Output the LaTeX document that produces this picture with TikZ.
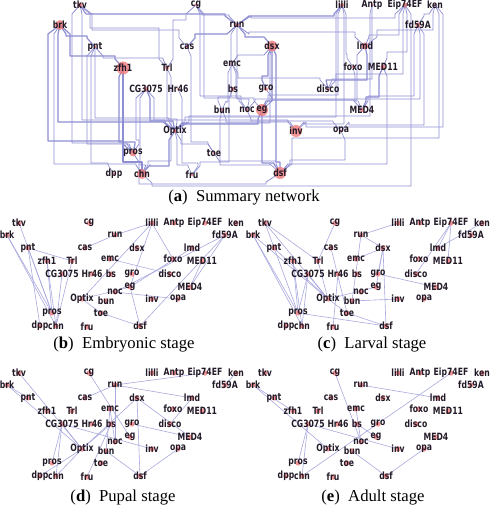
\documentclass[tikz,border=0pt]{standalone}
\usepackage{fontspec}
\setmainfont{Liberation Serif}
\newfontfamily\genefont{DejaVu Sans}[FakeStretch=0.77]
\usetikzlibrary{calc, backgrounds}

\definecolor{netblue}{RGB}{142, 142, 210}
\definecolor{stageblue}{RGB}{168, 168, 222}
\definecolor{hubred}{RGB}{240, 122, 122}
\definecolor{genetext}{RGB}{35, 26, 40}

%% layout of the four stage panels (pixel units, panel b)
\newcommand{\stagenodes}{tkv/19/223, cg/89/223, lilli/152/223, Antp/174/223,
  Eip74EF/205/223, ken/236/223, brk/7/235, run/115/235, fd59A/225/235,
  pnt/28/248, cas/85/248, dsx/137/248, lmd/192/248, zfh1/47/261, Trl/72/261,
  emc/110/259, foxo/173/259, MED11/202/261, CG3075/62/274, Hr46/92/274,
  bs/111/274, gro/132/274, disco/170/274, eg/130/287, MED4/190/287,
  noc/115/292, Optix/82/299, bun/106/301, inv/152/299, opa/178/299,
  pros/52/313, toe/101/313, dpp/40/326, chn/56/326, fru/87/327, dsf/140/326}

\begin{document}
\begin{tikzpicture}[
  x=0.75pt, y=-0.75pt,
  gene/.style={font=\genefont\bfseries\fontsize{7.5}{8}\selectfont, text=genetext, inner sep=0.5pt},
  hub/.style={fill=hubred, fill opacity=0.8},
  sumedge/.style={draw=netblue, line join=round},
  stageedge/.style={draw=stageblue, line width=0.45pt},
  capt/.style={font=\fontsize{12.5}{14}\selectfont}
]
\useasboundingbox (0,0) rectangle (489,509);

%% ===== (a) summary network =====
\foreach \n/\x/\y/\r in {tkv/80/5/2.5, cg/196/5/1.5, lilli/342/5/2, Antp/372/5/1.5,
    Eip74EF/405/5/2.5, ken/435/5/1.5, brk/60/25/5, run/237/25/2, fd59A/418/25/2.5,
    pnt/95/47/1.5, cas/187/47/1.5, dsx/272/46/5.5, lmd/365/46/3.5, zfh1/123/68/6.5,
    Trl/167/68/2, emc/232/64/1.5, foxo/353/67/1.5, MED11/383/67/2.5,
    CG3075/146/89/2.5, Hr46/178/89/1.5, bs/233/89/2, gro/266/89/2, disco/328/89/1.5,
    bun/222/110/1.5, noc/247/110/1.5, eg/262/110/6, MED4/362/110/2,
    Optix/175/131/2, inv/296/131/6, opa/341/131/1.5, pros/133/153/3.5,
    toe/214/153/1.5, dpp/114/174/1.5, chn/142/174/5, fru/192/175/1.5, dsf/280/173/6} {
  \fill[hub] (\x,\y) circle (\r);
  \node[gene] (a-\n) at (\x,\y) {\n};
}

\begin{scope}[on background layer]
  %% from / to / x-offset from / dir from / x-offset to / dir to / channel / width
  \foreach \a/\b/\p/\s/\q/\t/\c/\w in {
      tkv/run/6/1/-12/-1/14/0.9, lilli/run/-8/1/12/-1/16/0.9, ken/fd59A/-6/1/6/-1/14/0.6,
      Eip74EF/run/-10/1/14/-1/18/0.6, cg/Trl/-10/1/6/-1/20/0.6, cg/run/6/1/-8/-1/15/0.6,
      tkv/cas/12/1/-8/-1/30/0.5,
      brk/pnt/6/1/-8/-1/36/0.9, run/cas/-10/1/8/-1/34/0.9, run/dsx/8/1/-8/-1/37/0.9,
      run/lmd/12/1/-10/-1/32/0.6, ken/lmd/-2/1/12/-1/30/0.5, Eip74EF/lmd/-6/1/4/-1/35/0.6,
      tkv/Trl/10/1/-8/-1/28/0.5, brk/zfh1/10/1/-8/-1/56/0.9, pnt/Trl/8/1/-4/-1/58/0.6,
      dsx/emc/-8/1/6/-1/55/0.6, lilli/foxo/4/1/-6/-1/54/0.5, Eip74EF/MED11/2/1/4/-1/52/0.6,
      emc/disco/6/1/-8/-1/78/0.5, dsx/gro/-4/1/-4/-1/76/0.9, Eip74EF/disco/-2/1/8/-1/74/0.5,
      lmd/disco/2/1/-2/-1/80/0.9, Antp/disco/0/1/4/-1/79/0.5,
      dsx/eg/0/1/4/-1/101/0.9, cg/eg/8/1/-8/-1/98/0.5,
      cg/noc/4/1/-6/-1/96/0.5, run/bun/-6/1/-4/-1/97/0.5, run/noc/0/1/2/-1/99/0.5,
      lilli/eg/-4/1/6/-1/95/0.5, lmd/eg/-8/1/10/-1/100/0.6, emc/bun/-4/1/4/-1/102/0.5,
      emc/noc/4/1/-8/-1/98/0.5, fd59A/MED4/-4/1/6/-1/96/0.6, fd59A/noc/2/1/8/-1/99/0.5,
      gro/MED4/6/1/-8/-1/100/0.6, MED11/MED4/-4/1/4/-1/97/0.9, foxo/MED4/2/1/-4/-1/101/0.5,
      tkv/Optix/2/1/-10/-1/120/0.6, brk/Optix/-2/1/-12/-1/122/0.9, pnt/Optix/0/1/-6/-1/118/0.6,
      CG3075/Optix/4/1/-2/-1/121/0.9, Trl/Optix/0/1/2/-1/119/0.6, lilli/Optix/-6/1/10/-1/117/0.5,
      dsx/Optix/-2/1/12/-1/123/0.6, eg/Optix/-4/1/8/-1/124/0.9, CG3075/inv/8/1/-8/-1/120/0.6,
      noc/opa/4/1/-8/-1/121/0.5, bun/inv/4/1/-6/-1/122/0.5, Antp/Optix/-2/1/14/-1/116/0.5,
      lilli/inv/2/1/8/-1/124/0.5, fd59A/opa/6/1/8/-1/125/0.5, ken/inv/8/1/10/-1/127/0.5,
      tkv/pros/-8/1/-6/-1/143/0.6, brk/pros/-12/1/-10/-1/141/0.9, pnt/pros/-8/1/-4/-1/144/0.6,
      zfh1/pros/-4/1/2/-1/142/0.9, CG3075/pros/-10/1/6/-1/140/0.6, cas/toe/4/1/-6/-1/142/0.5,
      Optix/toe/6/1/-6/-1/144/0.6, ken/dsf/4/1/12/-1/138/0.5,
      brk/chn/-6/1/-6/-1/164/0.6, pnt/dpp/-4/1/-6/-1/163/0.5, zfh1/chn/0/1/0/-1/162/0.9,
      CG3075/chn/-6/1/4/-1/165/0.6, Trl/chn/4/1/6/-1/161/0.5, Optix/chn/-6/1/8/-1/166/0.9,
      Optix/fru/2/1/-4/-1/165/0.5, Hr46/fru/4/1/6/-1/163/0.5, bs/fru/-4/1/8/-1/162/0.5,
      dsx/dsf/4/1/0/-1/162/0.9, MED11/dsf/4/1/8/-1/164/0.6, eg/dsf/0/1/-6/-1/163/0.9,
      bun/dsf/-2/1/-10/-1/165/0.5, toe/dsf/6/1/-4/-1/161/0.6, opa/dsf/4/1/10/-1/160/0.5,
      Eip74EF/chn/6/1/10/1/186/0.5, pros/dsf/6/1/-14/1/184/0.6} {
    \path ($(a-\a.center)+(\p,9*\s)$) coordinate (ra)
          ($(a-\b.center)+(\q,9*\t)$) coordinate (rb);
    \draw[sumedge, line width=\w pt] (a-\a.center) -- (ra) -- (ra |- 0,\c) -- (rb |- 0,\c) -- (rb) -- (a-\b.center);
  }
\end{scope}

\node[capt] (capa) at (244,198) {(\textbf{a})\ \ Summary network};

%% ===== (b)--(e) stage networks =====
\foreach \p/\sx/\sy in {b/0/0, c/246/0, d/0/150, e/246/150} {
  \begin{scope}[shift={(\sx,\sy)}]
    \foreach \n/\x/\y in \stagenodes {
      \fill[hub] (\x,\y) circle (2.6);
      \node[gene] (\p-\n) at (\x,\y) {\n};
    }
  \end{scope}
}

\begin{scope}[on background layer]
  %% embryonic
  \foreach \u/\v in {tkv/pros, brk/pros, brk/chn, pnt/Trl, pnt/pros, pnt/dpp,
      zfh1/pros, zfh1/chn, CG3075/chn, Trl/chn, cas/run, run/lilli, lilli/Optix,
      lilli/eg, lilli/foxo, emc/disco, fd59A/MED4, fd59A/noc, MED11/MED4,
      fd59A/dsf, lmd/eg, eg/dsf, noc/opa, Optix/eg, toe/dsf, Optix/toe}
    \draw[stageedge] (b-\u.center) -- (b-\v.center);
  %% larval
  \foreach \u/\v in {tkv/pros, tkv/Trl, tkv/Optix, brk/pros, brk/chn, brk/Optix,
      pnt/Optix, zfh1/pros, zfh1/chn, CG3075/pros, CG3075/chn, CG3075/Optix,
      cg/Trl, run/lilli, run/dsx, run/bun, cas/toe, dsx/emc, dsx/gro, dsx/eg,
      dsx/dsf, Eip74EF/lmd, Eip74EF/disco, Eip74EF/MED11, ken/lmd, gro/MED4,
      eg/Optix, bun/inv, Optix/toe, toe/dsf, pros/dsf, Hr46/fru, Trl/Optix}
    \draw[stageedge] (c-\u.center) -- (c-\v.center);
  %% pupal
  \foreach \u/\v in {tkv/Optix, brk/Optix, brk/pnt, cg/eg, run/Eip74EF, run/cas,
      run/noc, run/lmd, dsx/Optix, dsx/dsf, dsx/MED4, lmd/disco, ken/fd59A,
      emc/bun, emc/noc, bs/fru, bs/Optix, CG3075/Optix, CG3075/pros,
      CG3075/chn, CG3075/inv, gro/MED4, opa/dsf, bun/dsf, Optix/chn, Optix/dpp}
    \draw[stageedge] (d-\u.center) -- (d-\v.center);
  %% adult
  \foreach \u/\v in {brk/zfh1, brk/Optix, cg/noc, run/lmd, Eip74EF/chn,
      CG3075/pros, CG3075/chn, CG3075/inv, emc/noc, bs/eg, opa/dsf, bun/dsf}
    \draw[stageedge] (e-\u.center) -- (e-\v.center);
\end{scope}

\node[capt] (capb) at (124,345) {(\textbf{b})\ \ Embryonic stage};
\node[capt] (capc) at (372,345) {(\textbf{c})\ \ Larval stage};
\node[capt] (capd) at (123,498) {(\textbf{d})\ \ Pupal stage};
\node[capt] (cape) at (373,498) {(\textbf{e})\ \ Adult stage};

\end{tikzpicture}
\end{document}
